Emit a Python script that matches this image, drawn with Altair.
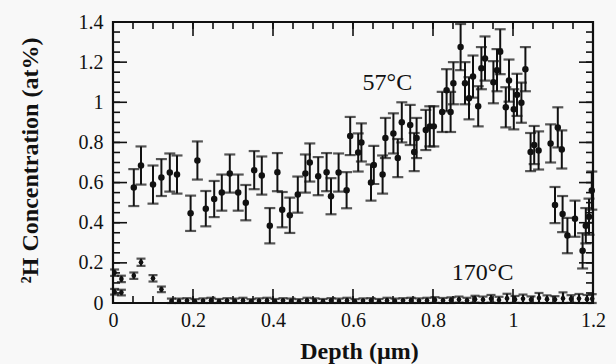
import altair as alt
import pandas as pd

# ---- 57 °C series (depth in µm, concentration in at%, error) ----
x57 = [0.052, 0.070, 0.100, 0.121, 0.142, 0.160, 0.194, 0.211, 0.232, 0.253,
       0.272, 0.292, 0.313, 0.332, 0.353, 0.372, 0.392, 0.411, 0.423, 0.442,
       0.462, 0.481, 0.492, 0.513, 0.534, 0.545, 0.564, 0.584, 0.593, 0.613,
       0.621, 0.645, 0.652, 0.674, 0.681, 0.701, 0.712, 0.722, 0.743, 0.753,
       0.759, 0.782, 0.792, 0.802, 0.823, 0.834, 0.844, 0.851, 0.869, 0.880,
       0.890, 0.900, 0.913, 0.921, 0.930, 0.951, 0.960, 0.968, 0.982, 0.990,
       1.002, 1.010, 1.021, 1.031, 1.044, 1.053, 1.064, 1.094, 1.105, 1.112,
       1.122, 1.124, 1.136, 1.155, 1.174, 1.182, 1.190, 1.197]
y57 = [0.575, 0.685, 0.590, 0.625, 0.650, 0.640, 0.447, 0.710, 0.470, 0.518,
       0.550, 0.645, 0.550, 0.500, 0.662, 0.635, 0.385, 0.652, 0.465, 0.437,
       0.540, 0.645, 0.700, 0.632, 0.652, 0.532, 0.650, 0.562, 0.832, 0.750,
       0.800, 0.600, 0.688, 0.640, 0.822, 0.845, 0.722, 0.900, 0.887, 0.752,
       0.822, 0.862, 0.880, 0.880, 0.952, 1.060, 0.952, 1.095, 1.275, 1.095,
       1.020, 1.128, 0.980, 1.170, 1.218, 1.100, 1.160, 1.252, 0.975, 1.108,
       0.965, 1.037, 0.998, 1.165, 0.752, 0.787, 0.760, 0.795, 0.488, 0.875,
       0.765, 0.443, 0.336, 0.420, 0.260, 0.385, 0.430, 0.560]
e57 = [0.092, 0.095, 0.095, 0.092, 0.095, 0.095, 0.088, 0.095, 0.088, 0.090,
       0.090, 0.095, 0.090, 0.088, 0.095, 0.095, 0.088, 0.095, 0.088, 0.088,
       0.090, 0.095, 0.095, 0.095, 0.095, 0.090, 0.095, 0.090, 0.095, 0.095,
       0.095, 0.090, 0.095, 0.095, 0.100, 0.100, 0.095, 0.100, 0.100, 0.095,
       0.100, 0.100, 0.100, 0.100, 0.100, 0.105, 0.100, 0.105, 0.115, 0.105,
       0.105, 0.105, 0.100, 0.105, 0.110, 0.105, 0.105, 0.112, 0.100, 0.105,
       0.100, 0.105, 0.100, 0.110, 0.095, 0.095, 0.095, 0.095, 0.090, 0.100,
       0.095, 0.090, 0.088, 0.090, 0.088, 0.088, 0.090, 0.095]

# ---- 170 °C series ----
x170 = [0.004, 0.004, 0.021, 0.021, 0.052, 0.070, 0.100, 0.121, 0.146,
        0.165, 0.185, 0.205, 0.225, 0.245, 0.265, 0.285, 0.305, 0.325, 0.345,
        0.365, 0.385, 0.405, 0.425, 0.445, 0.465, 0.485, 0.505, 0.525, 0.545,
        0.565, 0.585, 0.605, 0.625, 0.645, 0.665, 0.685, 0.705, 0.725, 0.745,
        0.765, 0.785, 0.805, 0.825, 0.845, 0.865, 0.885, 0.905, 0.925, 0.945,
        0.965, 0.985, 1.005, 1.025, 1.045, 1.065, 1.085, 1.105, 1.125, 1.145,
        1.165, 1.185, 1.198]
y170 = [0.151, 0.056, 0.120, 0.052, 0.136, 0.203, 0.123, 0.068, 0.010,
        0.010, 0.012, 0.008, 0.011, 0.013, 0.009, 0.012, 0.010, 0.013, 0.008,
        0.011, 0.013, 0.009, 0.012, 0.010, 0.008, 0.013, 0.011, 0.009, 0.012,
        0.010, 0.013, 0.008, 0.011, 0.012, 0.009, 0.013, 0.010, 0.012, 0.013,
        0.011, 0.013, 0.015, 0.012, 0.014, 0.017, 0.013, 0.019, 0.016, 0.021,
        0.015, 0.023, 0.018, 0.021, 0.016, 0.025, 0.019, 0.017, 0.023, 0.020,
        0.022, 0.019, 0.021]
e170 = [0.016, 0.014, 0.016, 0.014, 0.016, 0.018, 0.016, 0.014, 0.012,
        0.012, 0.012, 0.011, 0.012, 0.013, 0.011, 0.012, 0.012, 0.013, 0.011,
        0.012, 0.013, 0.011, 0.012, 0.012, 0.011, 0.013, 0.012, 0.011, 0.012,
        0.012, 0.013, 0.011, 0.012, 0.012, 0.011, 0.013, 0.012, 0.012, 0.013,
        0.012, 0.013, 0.014, 0.013, 0.014, 0.015, 0.013, 0.017, 0.016, 0.019,
        0.016, 0.023, 0.017, 0.021, 0.017, 0.025, 0.019, 0.017, 0.030, 0.019,
        0.023, 0.021, 0.023]

# ---- axes / ticks / annotations ----
x_major = [0, 0.2, 0.4, 0.6, 0.8, 1.0, 1.2]
y_major = [0, 0.2, 0.4, 0.6, 0.8, 1.0, 1.2, 1.4]
x_minor = [round(i * 0.05, 2) for i in range(25)]
y_minor = [round(i * 0.05, 2) for i in range(29)]
ann_text = ["57°C", "170°C"]
ann_x = [0.686, 0.924]
ann_y = [1.096, 0.147]

W, H = 480, 281
SERIF = "Liberation Serif"
INK = "#111111"

d57 = pd.DataFrame({"x": x57, "y": y57, "e": e57})
d57["lo"] = d57["y"] - d57["e"]
d57["hi"] = d57["y"] + d57["e"]
d170 = pd.DataFrame({"x": x170, "y": y170, "e": e170})
d170["lo"] = (d170["y"] - d170["e"]).clip(lower=0)
d170["hi"] = d170["y"] + d170["e"]

xs = alt.Scale(domain=[0, 1.2], nice=False, zero=False)
ys = alt.Scale(domain=[0, 1.4], nice=False, zero=False)

x_axis = alt.Axis(values=x_major, format="~g", title="Depth (\u00b5m)",
                  grid=False, domain=False, ticks=False, tickSize=0,
                  labelFont=SERIF, labelFontSize=20, labelColor=INK,
                  labelPadding=7, labelFlush=False,
                  titleFont=SERIF, titleFontSize=24, titleFontWeight="bold",
                  titleColor=INK, titleY=55, titleX=246,
                  titleBaseline="alphabetic")
y_axis = alt.Axis(values=y_major, format="~g", title="\u00b2H Concentration (at%)",
                  grid=False, domain=False, ticks=False, tickSize=0,
                  labelFont=SERIF, labelFontSize=20, labelColor=INK,
                  labelPadding=10, labelFlush=False,
                  titleFont=SERIF, titleFontSize=24, titleFontWeight="bold",
                  titleColor=INK, titleX=-76, titleY=138, titleAngle=270,
                  titleBaseline="alphabetic", titleAlign="center")


def X(field):
    return alt.X(field, scale=xs, axis=x_axis)


def Y(field):
    return alt.Y(field, scale=ys, axis=y_axis)


def series(df, cap, dot, sw):
    base = alt.Chart(df)
    pts = base.mark_circle(color=INK, opacity=1, size=dot).encode(x=X("x:Q"), y=Y("y:Q"))
    bars = base.mark_rule(color=INK, strokeWidth=sw).encode(x=X("x:Q"), y=Y("lo:Q"), y2="hi:Q")
    lo = base.mark_tick(color=INK, orient="horizontal", size=cap, thickness=2.2).encode(
        x=X("x:Q"), y=Y("lo:Q"))
    hi = base.mark_tick(color=INK, orient="horizontal", size=cap, thickness=2.2).encode(
        x=X("x:Q"), y=Y("hi:Q"))
    return [bars, lo, hi, pts]


def yticks(vals, length):
    df = pd.DataFrame({"v": vals})
    left = alt.Chart(df).mark_rule(color=INK, strokeWidth=1.6).encode(
        y=Y("v:Q"), x=alt.value(0), x2=alt.value(length))
    right = alt.Chart(df).mark_rule(color=INK, strokeWidth=1.6, x2Offset=-length).encode(
        y=Y("v:Q"), x=alt.value("width"), x2=alt.value("width"))
    return [left, right]


def xticks(vals, length):
    df = pd.DataFrame({"v": vals})
    bottom = alt.Chart(df).mark_rule(color=INK, strokeWidth=1.6, y2Offset=-length).encode(
        x=X("v:Q"), y=alt.value("height"), y2=alt.value("height"))
    top = alt.Chart(df).mark_rule(color=INK, strokeWidth=1.6).encode(
        x=X("v:Q"), y=alt.value(0), y2=alt.value(length))
    return [bottom, top]


ann = alt.Chart(pd.DataFrame({"t": ann_text, "x": ann_x, "y": ann_y})).mark_text(
    font=SERIF, fontSize=24, color=INK, align="center", baseline="middle").encode(
    x=X("x:Q"), y=Y("y:Q"), text="t:N")

layers = (series(d57, 11, 42, 2.0) + series(d170, 9, 22, 2.2)
          + yticks(y_minor, 7) + yticks(y_major, 14)
          + xticks(x_minor, 7) + xticks(x_major, 14) + [ann])

chart = alt.layer(*layers).properties(
    width=W, height=H,
    autosize=alt.AutoSizeParams(type="none"),
    padding={"left": 113, "top": 22, "right": 23, "bottom": 61},
    background="#f8f8f8",
).configure_view(stroke=INK, strokeWidth=2.2)

chart.save("out.html", embed_options={"renderer": "svg", "actions": False})
